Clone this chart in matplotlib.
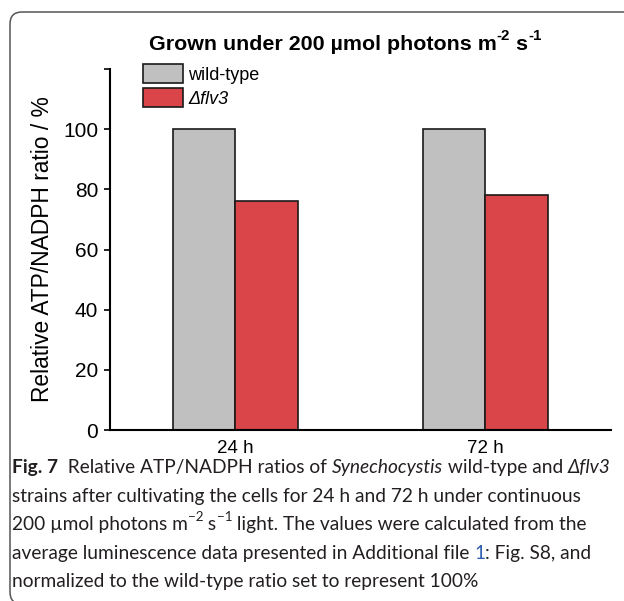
"""ATP/NADPH ratio bar chart with caption (Fig. 7)"""

import matplotlib
matplotlib.use('Agg')
import matplotlib.pyplot as plt
import matplotlib.transforms as mtransforms
from matplotlib.patches import FancyBboxPatch, Patch
import numpy as np

# Data
timepoints = ['24 h', '72 h']
wild_type = [100.0, 100.0]
flv3 = [76.2, 78.2]
series_labels = ['wild-type', '\u0394flv3']
yticks = [0, 20, 40, 60, 80, 100, 120]
ytick_labels = ['0', '20', '40', '60', '80', '100', '']

GREY = '#c0c0c0'
RED = '#d94548'
EDGE = '#1a1a1a'
CAPTION_COLOR = '#231f20'
LINK_BLUE = '#2f5fad'

W, H = 624, 601
plt.rcParams['font.family'] = ['Liberation Sans', 'DejaVu Sans']

fig = plt.figure(figsize=(W / 100, H / 100), dpi=100)
fig.patch.set_facecolor('white')
renderer = fig.canvas.get_renderer()
ident = mtransforms.IdentityTransform()


def draw_segments(segments, x, y, align='left', base_size=12, family=None):
    """Draw a line of mixed-style text segments, y is baseline from top (px)."""
    texts = []
    cur = x
    ydisp = H - y
    for seg in segments:
        s = seg[0]
        opts = dict(seg[1]) if len(seg) > 1 else {}
        sup = opts.pop('sup', False)
        size = opts.pop('size', base_size)
        if sup:
            size = size * 0.7
        kw = dict(fontsize=size, va='baseline', ha='left', transform=ident)
        if family is not None:
            kw['family'] = family
        kw.update(opts)
        dy = base_size * 0.45 * 100 / 72 if sup else 0
        t = fig.text(cur, ydisp + dy, s, **kw)
        bb = t.get_window_extent(renderer)
        cur = bb.x1
        texts.append(t)
    if align == 'center':
        shift = (cur - x) / 2
        for t in texts:
            px, py = t.get_position()
            t.set_position((px - shift, py))
    return texts


# Rounded frame around the figure panel
frame = FancyBboxPatch((10, -3), 650, H - 12 + 3,
                       boxstyle='round,pad=0,rounding_size=12',
                       transform=ident, fill=False, edgecolor='#555555',
                       linewidth=1.1)
fig.patches.append(frame)

# Axes in pixel layout
ax_left, ax_right, ax_top, ax_bottom = 110, 611, 69, 430
ax = fig.add_axes([ax_left / W, 1 - ax_bottom / H,
                   (ax_right - ax_left) / W, (ax_bottom - ax_top) / H])

x = np.arange(len(timepoints))
bw = 0.25
ax.bar(x - bw / 2, wild_type, bw, color=GREY, edgecolor=EDGE, linewidth=1.2,
       label=series_labels[0], zorder=2)
ax.bar(x + bw / 2, flv3, bw, color=RED, edgecolor=EDGE, linewidth=1.2,
       label=series_labels[1], zorder=2)

ax.set_xlim(-0.5, 1.504)
ax.set_ylim(0, 120)
ax.set_yticks(yticks)
ax.set_yticklabels(ytick_labels)
ax.set_xticks(x)
ax.set_xticklabels(timepoints)
ax.tick_params(axis='y', direction='out', length=4.5, width=1.2, pad=4,
               labelsize=15, colors='black')
ax.tick_params(axis='x', length=0, pad=7, labelsize=13.5)
for side in ['top', 'right']:
    ax.spines[side].set_visible(False)
for side in ['left', 'bottom']:
    ax.spines[side].set_linewidth(1.5)
    ax.spines[side].set_color('black')

ax.set_ylabel('Relative ATP/NADPH ratio / %', fontsize=16.4)
ax.yaxis.set_label_coords(-0.112, 0.5)

handles = [Patch(facecolor=GREY, edgecolor=EDGE, linewidth=1.2),
           Patch(facecolor=RED, edgecolor=EDGE, linewidth=1.2)]
leg = ax.legend(handles, series_labels,
                loc='upper left',
                bbox_to_anchor=((143 - ax_left) / (ax_right - ax_left),
                                (ax_bottom - 64) / (ax_bottom - ax_top)),
                frameon=False, fontsize=13, handlelength=2.2,
                handleheight=1.25, handletextpad=0.3, labelspacing=0.25,
                borderpad=0, borderaxespad=0)
leg.get_texts()[1].set_style('italic')

# Title with superscripts
bold = {'fontweight': 'bold'}
draw_segments([
    ('Grown under 200 \u00b5mol photons m', bold),
    ('-2', {'fontweight': 'bold', 'sup': True}),
    (' s', bold),
    ('-1', {'fontweight': 'bold', 'sup': True}),
], 345, 50, align='center', base_size=15.4)

# Caption
cap = 'Lato'
c = {'color': CAPTION_COLOR}
ci = {'color': CAPTION_COLOR, 'style': 'italic'}
cb = {'color': CAPTION_COLOR, 'fontweight': 'bold'}
csup = {'color': CAPTION_COLOR, 'sup': True}
cfs = 13.8
line_y = [473, 502, 530, 559, 587]
draw_segments([
    ('Fig. 7', cb), ('  Relative ATP/NADPH ratios of ', c),
    ('Synechocystis', ci), (' wild-type and ', c), ('\u0394flv3', ci),
], 12, line_y[0], base_size=cfs, family=cap)
draw_segments([
    ('strains after cultivating the cells for 24 h and 72 h under continuous', c),
], 12, line_y[1], base_size=cfs, family=cap)
draw_segments([
    ('200 \u00b5mol photons m', c), ('\u22122', csup), (' s', c),
    ('\u22121', csup), (' light. The values were calculated from the', c),
], 12, line_y[2], base_size=cfs, family=cap)
draw_segments([
    ('average luminescence data presented in Additional file ', c),
    ('1', {'color': LINK_BLUE}), (': Fig. S8, and', c),
], 12, line_y[3], base_size=cfs, family=cap)
draw_segments([
    ('normalized to the wild-type ratio set to represent 100%', c),
], 12, line_y[4], base_size=cfs, family=cap)

fig.savefig('out.png', dpi=100, facecolor='white')
plt.close(fig)
